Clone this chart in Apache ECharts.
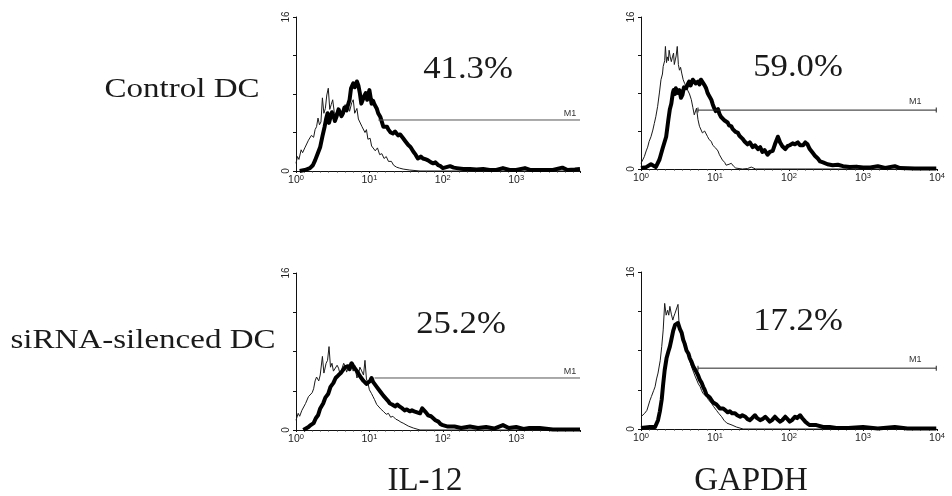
<!DOCTYPE html>
<html>
<head>
<meta charset="utf-8">
<script src="https://cdn.jsdelivr.net/npm/echarts@6/dist/echarts.min.js"></script>
<style>html,body{margin:0;padding:0;background:#fff}#c{width:952px;height:496px}</style>
</head>
<body>
<div id="c"></div>
<script>
// ---- data: x = log10 fluorescence (decades), y = cell count ----
const rowLabels = ['Control DC', 'siRNA-silenced DC'];
const colLabels = ['IL-12', 'GAPDH'];
const percents = ['41.3%', '59.0%', '25.2%', '17.2%'];
const xTickExp = ['0', '1', '2', '3', '4'];
const yTickLabels = ['0', '', '', '', '16'];
// gate M1: [start decade, end decade, height]
const gateCtrlIL12 = [1.12, 3.87, 5.3];
const gateCtrlGAPDH = [0.77, 3.99, 6.2];
const gateSiIL12 = [1.07, 3.87, 5.3];
const gateSiGAPDH = [0.77, 3.99, 6.2];

const ctrlIL12Iso = [[0,0.8],[0.02,1.5],[0.04,1.2],[0.07,2.2],[0.09,1.9],[0.12,2.4],[0.14,2.2],[0.17,3.2],[0.19,3.0],[0.21,3.7],[0.24,3.5],[0.26,4.3],[0.28,4.6],[0.30,5.5],[0.32,4.8],[0.34,5.1],[0.36,7.6],[0.38,6.0],[0.40,6.5],[0.42,7.9],[0.44,8.6],[0.46,6.4],[0.48,6.9],[0.50,7.4],[0.52,6.2],[0.55,5.8],[0.57,6.5],[0.60,6.3],[0.62,5.6],[0.64,6.0],[0.67,6.9],[0.69,6.4],[0.71,6.9],[0.73,6.2],[0.76,7.1],[0.78,7.4],[0.80,6.0],[0.83,6.5],[0.85,5.4],[0.87,5.6],[0.90,4.6],[0.92,4.8],[0.94,4.0],[0.96,4.3],[0.98,3.3],[1.01,3.4],[1.03,2.6],[1.05,2.7],[1.08,2.1],[1.11,2.4],[1.14,1.7],[1.17,1.8],[1.20,1.3],[1.23,1.5],[1.26,1.0],[1.30,1.0],[1.33,0.6],[1.37,0.4],[1.41,0.3],[1.46,0.2],[1.55,0.1],[1.69,0],[3.87,0]];
const ctrlIL12Stain = [[0.05,0],[0.12,0.1],[0.19,0.3],[0.23,0.6],[0.26,1.1],[0.30,1.9],[0.33,2.5],[0.36,3.6],[0.39,4.6],[0.41,5.4],[0.43,6.0],[0.45,5.0],[0.46,5.3],[0.49,6.1],[0.51,5.8],[0.53,5.2],[0.55,5.6],[0.58,6.4],[0.60,6.2],[0.62,5.7],[0.64,6.0],[0.66,6.6],[0.69,6.3],[0.71,6.9],[0.73,7.4],[0.75,8.6],[0.78,9.1],[0.80,8.7],[0.83,9.3],[0.85,8.9],[0.87,8.1],[0.89,7.0],[0.91,7.2],[0.93,7.8],[0.95,8.1],[0.97,7.4],[1.0,8.4],[1.03,7.0],[1.05,7.3],[1.07,6.9],[1.10,6.5],[1.12,6.0],[1.15,5.6],[1.17,5.1],[1.19,4.6],[1.21,4.4],[1.24,4.6],[1.26,4.3],[1.29,4.0],[1.32,3.9],[1.35,4.1],[1.39,3.7],[1.42,3.8],[1.46,3.4],[1.49,3.1],[1.53,2.7],[1.56,2.5],[1.60,2.0],[1.63,1.7],[1.66,1.3],[1.70,1.5],[1.73,1.3],[1.77,1.2],[1.80,1.1],[1.84,0.9],[1.87,0.8],[1.90,0.9],[1.94,0.6],[1.97,0.5],[2.0,0.3],[2.05,0.4],[2.1,0.5],[2.15,0.35],[2.19,0.3],[2.28,0.2],[2.37,0.2],[2.46,0.15],[2.55,0.2],[2.64,0.1],[2.73,0.1],[2.82,0.3],[2.91,0.1],[3.0,0.1],[3.12,0.3],[3.2,0.1],[3.3,0.1],[3.4,0.1],[3.5,0.1],[3.63,0.35],[3.7,0.1],[3.8,0.15],[3.87,0.2]];

const ctrlGAPDHIso = [[0,0.6],[0.045,1.3],[0.07,1.9],[0.09,2.3],[0.11,2.9],[0.135,3.4],[0.16,4.1],[0.18,4.8],[0.20,5.5],[0.225,6.6],[0.25,8.1],[0.27,9.4],[0.29,10.0],[0.30,10.8],[0.32,11.4],[0.33,12.9],[0.345,11.2],[0.355,11.8],[0.37,11.4],[0.38,12.5],[0.395,11.8],[0.41,11.3],[0.425,11.8],[0.44,12.2],[0.45,11.0],[0.46,11.1],[0.475,11.9],[0.49,12.9],[0.505,11.0],[0.52,10.4],[0.535,10.7],[0.55,10.1],[0.57,9.4],[0.59,9.0],[0.61,8.8],[0.63,8.3],[0.655,7.9],[0.68,7.3],[0.70,6.5],[0.72,5.7],[0.75,6.4],[0.77,5.2],[0.79,4.5],[0.81,4.3],[0.83,3.8],[0.86,4.0],[0.88,4.1],[0.90,3.4],[0.92,3.1],[0.95,2.9],[0.97,2.5],[0.99,2.7],[1.01,2.2],[1.04,1.9],[1.06,1.5],[1.08,1.3],[1.10,0.95],[1.13,0.7],[1.15,0.4],[1.19,0.5],[1.22,0.6],[1.25,0.3],[1.28,0.1],[1.37,0],[1.44,0.05],[1.49,0.2],[1.55,0],[3.99,0]];
const ctrlGAPDHStain = [[0,0.1],[0.07,0.2],[0.135,0.5],[0.20,0.2],[0.25,1.0],[0.29,2.1],[0.34,3.4],[0.37,5.2],[0.39,6.3],[0.41,6.9],[0.43,8.0],[0.44,8.3],[0.46,7.9],[0.47,8.5],[0.50,8.0],[0.52,8.3],[0.54,7.5],[0.56,7.8],[0.58,8.6],[0.61,8.5],[0.63,8.9],[0.65,9.2],[0.67,8.8],[0.70,9.4],[0.72,9.5],[0.74,9.0],[0.77,9.2],[0.79,8.9],[0.81,9.4],[0.83,9.2],[0.86,8.8],[0.88,8.5],[0.90,8.0],[0.92,7.7],[0.95,7.3],[0.97,6.8],[0.99,6.4],[1.01,6.1],[1.04,6.3],[1.06,5.8],[1.08,5.5],[1.10,5.4],[1.13,5.1],[1.15,4.9],[1.17,4.9],[1.19,4.6],[1.22,4.5],[1.24,4.2],[1.26,4.2],[1.28,3.9],[1.31,3.8],[1.33,3.5],[1.35,3.6],[1.37,3.2],[1.40,2.9],[1.44,2.6],[1.47,2.8],[1.51,2.3],[1.54,2.5],[1.58,2.1],[1.61,2.3],[1.64,1.8],[1.67,2.0],[1.71,1.5],[1.74,1.8],[1.78,1.9],[1.81,2.6],[1.85,3.4],[1.88,2.8],[1.91,2.4],[1.95,2.1],[1.98,2.4],[2.01,2.5],[2.05,2.7],[2.08,2.6],[2.12,2.8],[2.15,2.5],[2.19,2.5],[2.22,2.8],[2.25,2.6],[2.28,2.1],[2.32,1.7],[2.35,1.4],[2.39,1.1],[2.42,0.8],[2.46,0.7],[2.52,0.5],[2.59,0.4],[2.66,0.45],[2.73,0.3],[2.82,0.2],[2.91,0.25],[3.0,0.15],[3.1,0.15],[3.2,0.3],[3.3,0.1],[3.43,0.3],[3.5,0.1],[3.7,0.05],[3.99,0.05]];

const siIL12Iso = [[0,1.0],[0.03,1.7],[0.05,1.4],[0.08,2.0],[0.10,1.8],[0.13,2.7],[0.15,2.5],[0.17,3.4],[0.19,3.6],[0.22,3.8],[0.24,4.2],[0.26,5.0],[0.28,5.4],[0.31,5.0],[0.33,5.6],[0.36,7.5],[0.38,5.8],[0.39,6.1],[0.41,6.8],[0.43,7.1],[0.45,8.5],[0.47,6.4],[0.49,6.8],[0.51,6.0],[0.53,6.1],[0.56,6.6],[0.58,6.3],[0.60,5.7],[0.62,6.1],[0.65,6.8],[0.67,6.5],[0.69,5.9],[0.71,6.3],[0.74,6.9],[0.76,6.5],[0.78,6.0],[0.80,6.6],[0.83,5.3],[0.85,5.6],[0.87,6.4],[0.89,6.1],[0.92,5.6],[0.94,7.1],[0.96,5.2],[0.98,4.8],[1.00,4.1],[1.03,3.7],[1.05,3.4],[1.07,3.1],[1.10,2.6],[1.12,2.4],[1.16,2.1],[1.19,1.9],[1.23,1.6],[1.26,1.7],[1.29,1.3],[1.32,1.4],[1.36,1.1],[1.39,1.0],[1.43,0.8],[1.46,0.7],[1.53,0.4],[1.60,0.2],[1.69,0],[3.87,0]];
const siIL12Stain = [[0.10,0],[0.17,0.3],[0.20,0.5],[0.24,0.7],[0.27,1.2],[0.30,1.5],[0.33,2.2],[0.37,2.7],[0.40,3.3],[0.44,3.7],[0.47,4.4],[0.51,4.8],[0.54,5.3],[0.58,5.6],[0.61,5.8],[0.64,6.1],[0.67,6.4],[0.71,6.5],[0.73,6.2],[0.76,6.8],[0.78,6.5],[0.80,6.3],[0.83,6.0],[0.85,5.8],[0.87,5.5],[0.89,5.4],[0.92,5.0],[0.94,5.1],[0.96,4.7],[0.98,4.9],[1.01,5.0],[1.03,5.3],[1.05,4.9],[1.07,4.8],[1.10,4.4],[1.12,4.3],[1.15,3.9],[1.17,3.7],[1.19,3.5],[1.21,3.4],[1.25,3.0],[1.28,2.7],[1.31,2.6],[1.35,2.4],[1.38,2.6],[1.41,2.4],[1.45,2.2],[1.48,2.0],[1.51,2.1],[1.55,1.9],[1.58,2.0],[1.61,1.9],[1.65,1.8],[1.69,1.7],[1.72,2.2],[1.74,2.4],[1.77,1.8],[1.80,1.5],[1.84,1.4],[1.87,1.2],[1.90,1.0],[1.94,0.85],[1.97,0.6],[2.0,0.5],[2.07,0.35],[2.16,0.35],[2.25,0.2],[2.37,0.35],[2.48,0.2],[2.59,0.3],[2.7,0.15],[2.82,0.5],[2.9,0.2],[3.0,0.3],[3.1,0.1],[3.18,0.2],[3.32,0.2],[3.5,0.05],[3.87,0.05]];

const siGAPDHIso = [[0,1.25],[0.05,1.6],[0.08,1.9],[0.10,2.1],[0.12,2.9],[0.14,3.3],[0.17,3.9],[0.19,4.3],[0.21,5.1],[0.23,5.7],[0.26,7.0],[0.28,8.4],[0.30,10.1],[0.32,12.8],[0.34,11.6],[0.36,12.1],[0.375,11.6],[0.39,12.5],[0.41,11.7],[0.43,11.1],[0.445,11.5],[0.46,11.8],[0.48,12.0],[0.50,12.7],[0.515,10.6],[0.53,9.9],[0.55,9.6],[0.57,9.1],[0.595,8.5],[0.62,8.1],[0.64,7.4],[0.66,6.9],[0.685,6.3],[0.71,5.8],[0.73,5.4],[0.75,5.2],[0.775,4.6],[0.80,4.3],[0.82,3.9],[0.84,3.6],[0.865,3.5],[0.89,3.3],[0.91,3.0],[0.93,3.0],[0.955,2.6],[0.98,2.3],[1.0,2.1],[1.02,1.9],[1.05,1.6],[1.09,1.25],[1.12,0.9],[1.16,0.6],[1.23,0.4],[1.29,0.2],[1.38,0],[3.99,0]];
const siGAPDHStain = [[0,0.1],[0.12,0.2],[0.19,0.2],[0.23,0.9],[0.255,1.8],[0.28,3.0],[0.30,4.6],[0.32,6.0],[0.345,7.2],[0.37,7.9],[0.39,8.4],[0.41,9.1],[0.435,10.0],[0.46,10.6],[0.48,10.4],[0.50,10.8],[0.525,10.2],[0.55,9.8],[0.57,9.1],[0.59,8.7],[0.615,8.0],[0.64,7.7],[0.66,7.2],[0.68,6.9],[0.705,6.4],[0.73,6.2],[0.75,5.8],[0.77,5.5],[0.795,5.0],[0.82,4.7],[0.84,4.3],[0.86,4.0],[0.885,3.5],[0.91,3.3],[0.93,3.2],[0.95,3.0],[0.975,2.7],[1.0,2.8],[1.02,2.5],[1.04,2.3],[1.065,2.1],[1.09,1.9],[1.11,2.1],[1.14,1.9],[1.17,1.7],[1.20,1.8],[1.23,1.6],[1.27,1.6],[1.30,1.4],[1.34,1.25],[1.37,1.4],[1.41,1.25],[1.44,1.0],[1.47,0.9],[1.50,1.1],[1.54,1.4],[1.57,1.1],[1.61,0.9],[1.64,1.0],[1.68,1.25],[1.71,1.0],[1.74,0.75],[1.77,0.9],[1.81,1.25],[1.84,1.0],[1.88,0.75],[1.91,0.9],[1.95,1.25],[1.98,1.0],[2.01,0.75],[2.04,0.9],[2.08,1.25],[2.11,1.1],[2.15,1.4],[2.18,1.1],[2.22,0.75],[2.25,0.55],[2.28,0.4],[2.37,0.4],[2.46,0.2],[2.55,0.2],[2.64,0.1],[2.8,0.1],[3.0,0.2],[3.2,0.05],[3.43,0.2],[3.6,0.05],[3.99,0.05]];

// ---- layout ----
const panels = [
  {grid:{left:296, top:17, width:284, height:154}, xmax:3.87, iso:ctrlIL12Iso, stain:ctrlIL12Stain, gate:gateCtrlIL12, right:false},
  {grid:{left:641, top:17, width:296, height:152}, xmax:4, iso:ctrlGAPDHIso, stain:ctrlGAPDHStain, gate:gateCtrlGAPDH, right:true},
  {grid:{left:296, top:273, width:284, height:157}, xmax:3.87, iso:siIL12Iso, stain:siIL12Stain, gate:gateSiIL12, right:false},
  {grid:{left:641, top:272, width:296, height:157}, xmax:4, iso:siGAPDHIso, stain:siGAPDHStain, gate:gateSiGAPDH, right:true}
];

const ink = '#111';
const labelRich = {
  b: {fontSize: 10.5, fontFamily: 'Liberation Sans', color: '#222', lineHeight: 12, verticalAlign: 'bottom'},
  s: {fontSize: 7.5, fontFamily: 'Liberation Sans', color: '#222', lineHeight: 12, verticalAlign: 'top'}
};

const grids = [], xAxes = [], yAxes = [], series = [];
panels.forEach((p, i) => {
  grids.push(Object.assign({containLabel: false}, p.grid));
  xAxes.push({
    type: 'value', gridIndex: i, min: 0, max: p.xmax, interval: 1,
    axisLine: {show: true, onZero: false, lineStyle: {color: ink, width: 1}},
    axisTick: {show: true, length: 2, lineStyle: {color: ink, width: 1}},
    minorTick: {show: true, splitNumber: 9, length: 1.5, lineStyle: {color: '#333', width: 1}},
    splitLine: {show: false},
    axisLabel: {margin: 3, showMaxLabel: p.right, hideOverlap: false,
      formatter: v => '{b|10}{s|' + xTickExp[Math.round(v)] + '}', rich: labelRich}
  });
  yAxes.push({
    type: 'value', gridIndex: i, min: 0, max: 16, interval: 4,
    axisLine: {show: true, lineStyle: {color: ink, width: 1}},
    axisTick: {show: true, length: 3, lineStyle: {color: ink, width: 1}},
    splitLine: {show: false},
    axisLabel: {margin: 5, rotate: 90, fontSize: 10, fontFamily: 'Liberation Sans', color: '#222',
      formatter: v => yTickLabels[Math.round(v / 4)]}
  });
  series.push({
    type: 'line', xAxisIndex: i, yAxisIndex: i, data: p.iso, symbol: 'none', silent: true,
    lineStyle: {color: '#1a1a1a', width: 1}, z: 2
  });
  series.push({
    type: 'line', xAxisIndex: i, yAxisIndex: i, data: p.stain, symbol: 'none', silent: true,
    lineStyle: {color: '#000', width: 4, join: 'round'}, z: 3
  });
  const g = p.gate;
  const gateColor = p.right ? '#222' : '#555';
  series.push({
    type: 'line', xAxisIndex: i, yAxisIndex: i, silent: true, z: 4,
    symbol: 'rect', symbolSize: p.right ? [1, 5] : [0.1, 0.1], showSymbol: true,
    itemStyle: {color: gateColor},
    lineStyle: {color: gateColor, width: 1},
    data: [
      {value: [g[0], g[2]]},
      {value: [g[1], g[2]], label: {show: true, formatter: 'M1', position: 'top', distance: 2,
        offset: [p.right ? -21 : -10, 0], fontSize: 9, fontFamily: 'Liberation Sans', color: '#333'}}
    ]
  });
});

// ---- text (serif, like the original figure) ----
function serifText(text, cx, baseline, size, sx) {
  return {
    type: 'text', x: cx, y: baseline - 0.34 * size, scaleX: sx, silent: true,
    style: {text: text, x: 0, y: 0, textAlign: 'center', textVerticalAlign: 'middle', verticalAlign: 'middle',
      font: size + 'px "Liberation Serif", "Times New Roman", serif', fill: '#1a1a1a'}
  };
}
const graphics = [
  serifText(rowLabels[0], 182, 99, 28, 1.18),
  serifText(rowLabels[1], 143, 350, 28, 1.18),
  serifText(percents[0], 468, 80, 31, 1.12),
  serifText(percents[1], 798, 78, 31, 1.12),
  serifText(percents[2], 461, 335, 31, 1.12),
  serifText(percents[3], 798, 332, 31, 1.12),
  serifText(colLabels[0], 425, 493, 33, 1.0),
  serifText(colLabels[1], 751, 493, 33, 1.0)
];

const chart = echarts.init(document.getElementById('c'), null, {renderer: 'canvas'});
chart.setOption({
  animation: false,
  backgroundColor: '#fff',
  grid: grids, xAxis: xAxes, yAxis: yAxes, series: series,
  graphic: graphics
});
</script>
</body>
</html>
